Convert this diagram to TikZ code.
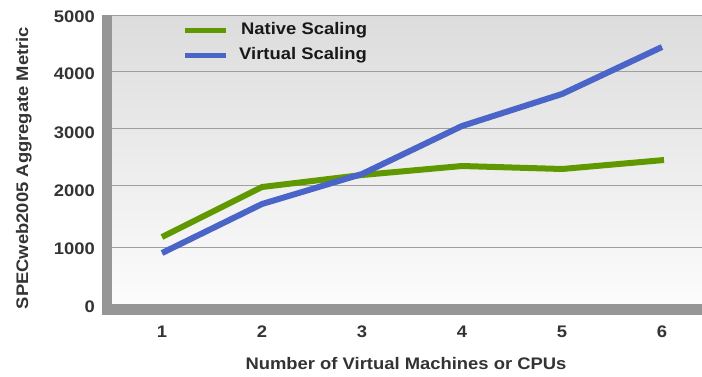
\documentclass[tikz,border=0pt]{standalone}
\usepackage{fontspec}
\setmainfont[FakeStretch=1.1]{Liberation Sans}
\definecolor{nativegreen}{RGB}{96,152,0}
\definecolor{virtblue}{RGB}{74,100,200}
\definecolor{wallgray}{RGB}{150,150,150}
\definecolor{gridgray}{RGB}{158,158,158}
\definecolor{bgtop}{RGB}{220,220,220}
\definecolor{bgbottom}{RGB}{252,252,252}
\definecolor{labelgray}{RGB}{51,51,51}
\begin{document}
\begin{tikzpicture}[x=1bp, y=-1bp,
    ticklabel/.style={font=\fontsize{16.8}{18}\selectfont\bfseries, text=labelgray, inner sep=0pt},
    axistitle/.style={font=\fontsize{16.8}{18}\selectfont\bfseries, text=labelgray, inner sep=0pt, anchor=base},
    legendtext/.style={font=\fontsize{16.8}{18}\selectfont\bfseries, text=black!90, inner sep=0pt, anchor=west},
    series/.style={line width=6bp}]
  \useasboundingbox (0,0) rectangle (702,376);
  % plot area
  \shade[top color=bgtop, bottom color=bgbottom] (112,15) rectangle (702,304);
  \foreach \gy in {15,71,128,185,247}
    \draw[gridgray, line width=1bp] (112,\gy) -- (702,\gy);
  \fill[wallgray] (102,15) rectangle (112,315);
  \fill[wallgray] (102,304) rectangle (702,315);
  % axis labels
  \foreach \val/\gy in {0/307,1000/249,2000/191,3000/133,4000/74,5000/17}
    \node[ticklabel, anchor=east] (y\val) at (95,\gy) {\val};
  \foreach \n in {1,...,6}
    \node[ticklabel] (x\n) at ({62+100*\n},332) {\n};
  \node[axistitle] (xtitle) at (406,369) {Number of Virtual Machines or CPUs};
  \node[axistitle, rotate=90] (ytitle) at (28,168) {SPECweb2005 Aggregate Metric};
  % data
  \draw[series, nativegreen] (162,237) -- (262,187) -- (362,175) -- (462,166)
    -- (562,169) -- (664,160);
  \draw[series, virtblue] (162,253) -- (262,204) -- (362,174) -- (462,126)
    -- (562,94) -- (662,47);
  % legend
  \node[legendtext] (native) at (241,30) {Native Scaling};
  \node[legendtext] (virtual) at (239,55) {Virtual Scaling};
  \draw[nativegreen, line width=5bp] ([xshift=-56bp]native.west) -- ([xshift=-15bp]native.west);
  \draw[virtblue, line width=5bp] ([xshift=-54bp]virtual.west) -- ([xshift=-13bp]virtual.west);
\end{tikzpicture}
\end{document}
